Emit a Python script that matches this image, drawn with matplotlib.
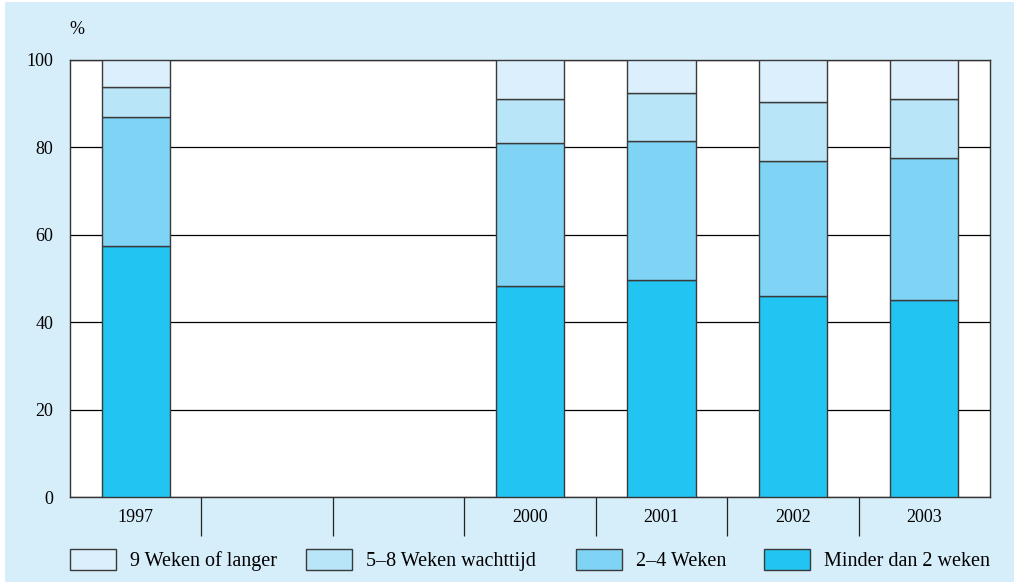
import matplotlib
matplotlib.use("Agg")
import matplotlib.pyplot as plt
from matplotlib.patches import Rectangle
import numpy as np

# Data (percent of cases per waiting time)
years = ["1997", "", "", "2000", "2001", "2002", "2003"]
minder_2 = [57.4, 0, 0, 48.3, 49.7, 46.0, 45.1]
weken_2_4 = [29.6, 0, 0, 32.7, 31.8, 30.9, 32.5]
weken_5_8 = [6.8, 0, 0, 10.1, 10.9, 13.5, 13.5]
weken_9 = [6.2, 0, 0, 8.9, 7.6, 9.6, 8.9]

labels = ["9 Weken of langer", "5\u20138 Weken wachttijd", "2\u20134 Weken", "Minder dan 2 weken"]
colors = ["#DBEFFC", "#B9E5F9", "#7FD4F5", "#22C4F1"]

plt.rcParams['font.family'] = ['Liberation Serif', 'DejaVu Serif']

fig = plt.figure(figsize=(10.14, 5.83), dpi=100, facecolor="white")
fig.patches.append(Rectangle((5 / 1014, 0.002), 1, 0.994, transform=fig.transFigure,
                             facecolor="#D6EEFA", edgecolor="none", zorder=-5))

ax = fig.add_axes([70 / 1014, 1 - 497 / 583, 920 / 1014, 437 / 583])
ax.set_zorder(2)
ax.set_facecolor("white")

x = np.arange(len(years))
present = [i for i in x if years[i] != ""]
stack = [minder_2, weken_2_4, weken_5_8, weken_9]
bottom = np.zeros(len(years))
handles = []
for vals, col in zip(stack, colors[::-1]):
    v = np.array(vals, dtype=float)
    b = ax.bar(x[present], v[present], bottom=bottom[present], width=0.52, color=col,
               edgecolor="#3a3a3a", linewidth=1.0, zorder=3)
    handles.append(b)
    bottom += v

ax.set_xlim(-0.5, len(years) - 0.5)
ax.set_ylim(0, 100)
ax.set_yticks([0, 20, 40, 60, 80, 100])
ax.yaxis.grid(True, color="black", linewidth=0.9, zorder=1)
ax.set_axisbelow(True)
ax.tick_params(axis="y", length=0, pad=12, labelsize=13)

# slot boundaries as long ticks, labels centered in slots
ax.set_xticks(np.arange(0.5, len(years) - 0.5, 1.0))
ax.set_xticklabels([])
ax.tick_params(axis="x", which="major", length=28, width=0.9, color="#222222")
ax.set_xticks(x, minor=True)
ax.set_xticklabels(years, minor=True)
ax.tick_params(axis="x", which="minor", length=0, pad=9, labelsize=13)

for s in ax.spines.values():
    s.set_color("#333333")
    s.set_linewidth(1.0)

fig.text(77 / 1014, 1 - 30 / 583, "%", fontsize=13, ha="center", va="center")

# legend entries placed one by one, like the original layout
legend_x = [70, 306, 576, 764]
for h, lab, lx in zip(handles[::-1], labels, legend_x):
    fig.legend([h], [lab], loc="center left",
               bbox_to_anchor=(lx / 1014, 1 - 560 / 583), frameon=False,
               fontsize=14.5, handlelength=2.3, handleheight=1.2, handletextpad=0.7,
               borderpad=0, borderaxespad=0)

fig.savefig("out.png", dpi=100, facecolor=fig.get_facecolor())
